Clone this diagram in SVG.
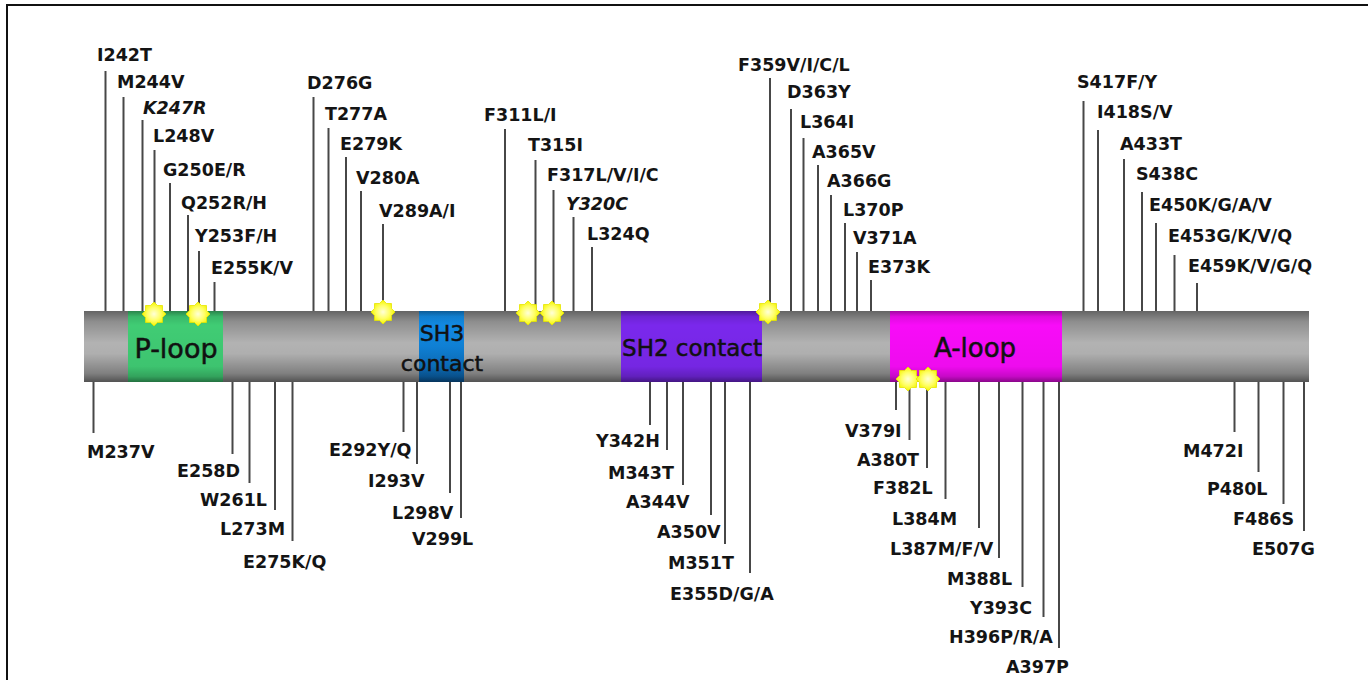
<svg xmlns="http://www.w3.org/2000/svg" xmlns:xlink="http://www.w3.org/1999/xlink" width="1368" height="680" viewBox="0 0 1368 680">
<style>
.lbl{font-family:"DejaVu Sans",Verdana,sans-serif;font-weight:bold;font-size:17.5px;fill:#141414}
.it{font-style:italic}
.dom{font-family:"DejaVu Sans",Verdana,sans-serif;fill:#111;stroke:#111;stroke-width:0.5}
.ln{stroke:#474747;stroke-width:2;fill:none}
.dshade{fill:url(#dshade)}
</style>
<defs>
<linearGradient id="shade" x1="0" y1="0" x2="0" y2="1">
<stop offset="0" stop-color="#000" stop-opacity="0.45"/>
<stop offset="0.15" stop-color="#000" stop-opacity="0.22"/>
<stop offset="0.45" stop-color="#000" stop-opacity="0.02"/>
<stop offset="0.6" stop-color="#000" stop-opacity="0.04"/>
<stop offset="0.88" stop-color="#000" stop-opacity="0.3"/>
<stop offset="1" stop-color="#000" stop-opacity="0.55"/>
</linearGradient>
<linearGradient id="dshade" x1="0" y1="0" x2="0" y2="1">
<stop offset="0" stop-color="#000" stop-opacity="0.35"/>
<stop offset="0.08" stop-color="#000" stop-opacity="0.1"/>
<stop offset="0.2" stop-color="#000" stop-opacity="0"/>
<stop offset="0.78" stop-color="#000" stop-opacity="0.04"/>
<stop offset="0.92" stop-color="#000" stop-opacity="0.2"/>
<stop offset="1" stop-color="#000" stop-opacity="0.45"/>
</linearGradient>
<linearGradient id="sh3fill" x1="0" y1="0" x2="0" y2="1">
<stop offset="0" stop-color="#138ee8"/>
<stop offset="0.5" stop-color="#0f82d8"/>
<stop offset="1" stop-color="#0a5fa6"/>
</linearGradient>
<radialGradient id="starfill" cx="0.5" cy="0.5" r="0.5">
<stop offset="0" stop-color="#ffffd8"/>
<stop offset="0.55" stop-color="#ffff66"/>
<stop offset="1" stop-color="#f4f400"/>
</radialGradient>
<polygon id="star" points="12,0 8.5,3.52 8.49,8.49 3.52,8.5 0,12 -3.52,8.5 -8.49,8.49 -8.5,3.52 -12,0 -8.5,-3.52 -8.49,-8.49 -3.52,-8.5 0,-12 3.52,-8.5 8.49,-8.49 8.5,-3.52" fill="url(#starfill)" stroke="#e6e600" stroke-width="0.8"/>
</defs>
<rect width="1368" height="680" fill="#fff"/>
<path d="M7,680 V5 H1368" fill="none" stroke="#111" stroke-width="2"/>

<g id="protein-bar">
<rect x="84" y="311" width="1225" height="71" fill="#b6b6b6"/>
<rect x="84" y="311" width="1225" height="71" fill="url(#shade)"/>
</g>
<g id="P-loop">
<rect x="128" y="311" width="95" height="71" fill="#40cc74"/>
<rect class="dshade" x="128" y="311" width="95" height="71"/>
</g>
<g id="SH3-contact">
<rect x="419" y="311" width="45" height="71" fill="url(#sh3fill)"/>
<rect class="dshade" x="419" y="311" width="45" height="71"/>
</g>
<g id="SH2-contact">
<rect x="621" y="311" width="141" height="71" fill="#7a28ec"/>
<rect class="dshade" x="621" y="311" width="141" height="71"/>
</g>
<g id="A-loop">
<rect x="890" y="311" width="172" height="71" fill="#f80cf8"/>
<rect class="dshade" x="890" y="311" width="172" height="71"/>
</g>
<g id="domain-labels">
<text class="dom" x="176" y="358" font-size="27" text-anchor="middle">P-loop</text>
<text class="dom" x="442" y="341" font-size="22" text-anchor="middle">SH3</text>
<text class="dom" x="442" y="371" font-size="22" text-anchor="middle">contact</text>
<text class="dom" x="692" y="356" font-size="23" text-anchor="middle">SH2 contact</text>
<text class="dom" x="975" y="357" font-size="26" text-anchor="middle">A-loop</text>
</g>

<g id="connectors">
<line class="ln" x1="105.5" y1="71" x2="105.5" y2="311"/>
<line class="ln" x1="123.5" y1="97" x2="123.5" y2="311"/>
<line class="ln" x1="142.5" y1="120" x2="142.5" y2="311"/>
<line class="ln" x1="154.5" y1="150" x2="154.5" y2="311"/>
<line class="ln" x1="170" y1="183" x2="170" y2="311"/>
<line class="ln" x1="188" y1="215" x2="188" y2="311"/>
<line class="ln" x1="199" y1="251" x2="199" y2="311"/>
<line class="ln" x1="214.5" y1="282" x2="214.5" y2="311"/>
<line class="ln" x1="313.5" y1="97" x2="313.5" y2="311"/>
<line class="ln" x1="328.5" y1="128" x2="328.5" y2="311"/>
<line class="ln" x1="346" y1="157" x2="346" y2="311"/>
<line class="ln" x1="361" y1="191" x2="361" y2="311"/>
<line class="ln" x1="383" y1="224" x2="383" y2="311"/>
<line class="ln" x1="505" y1="129" x2="505" y2="311"/>
<line class="ln" x1="535.5" y1="160" x2="535.5" y2="311"/>
<line class="ln" x1="553.5" y1="190" x2="553.5" y2="311"/>
<line class="ln" x1="573.5" y1="217" x2="573.5" y2="311"/>
<line class="ln" x1="592" y1="247" x2="592" y2="311"/>
<line class="ln" x1="770" y1="78" x2="770" y2="311"/>
<line class="ln" x1="791" y1="109" x2="791" y2="311"/>
<line class="ln" x1="803.5" y1="138" x2="803.5" y2="311"/>
<line class="ln" x1="818" y1="165" x2="818" y2="311"/>
<line class="ln" x1="831" y1="195" x2="831" y2="311"/>
<line class="ln" x1="845" y1="223" x2="845" y2="311"/>
<line class="ln" x1="857" y1="252" x2="857" y2="311"/>
<line class="ln" x1="871" y1="280" x2="871" y2="311"/>
<line class="ln" x1="1083.5" y1="101" x2="1083.5" y2="311"/>
<line class="ln" x1="1098" y1="130" x2="1098" y2="311"/>
<line class="ln" x1="1124" y1="159" x2="1124" y2="311"/>
<line class="ln" x1="1142" y1="192" x2="1142" y2="311"/>
<line class="ln" x1="1156" y1="223" x2="1156" y2="311"/>
<line class="ln" x1="1174.5" y1="255" x2="1174.5" y2="311"/>
<line class="ln" x1="1197" y1="283" x2="1197" y2="311"/>
<line class="ln" x1="93.5" y1="382" x2="93.5" y2="433"/>
<line class="ln" x1="232.5" y1="382" x2="232.5" y2="454"/>
<line class="ln" x1="249.5" y1="382" x2="249.5" y2="483"/>
<line class="ln" x1="275" y1="382" x2="275" y2="510"/>
<line class="ln" x1="292.5" y1="382" x2="292.5" y2="541"/>
<line class="ln" x1="403.5" y1="382" x2="403.5" y2="432"/>
<line class="ln" x1="417" y1="382" x2="417" y2="464"/>
<line class="ln" x1="450" y1="382" x2="450" y2="493"/>
<line class="ln" x1="461" y1="382" x2="461" y2="518"/>
<line class="ln" x1="650" y1="382" x2="650" y2="425"/>
<line class="ln" x1="667" y1="382" x2="667" y2="450"/>
<line class="ln" x1="683" y1="382" x2="683" y2="485"/>
<line class="ln" x1="711" y1="382" x2="711" y2="515"/>
<line class="ln" x1="725" y1="382" x2="725" y2="544"/>
<line class="ln" x1="750" y1="382" x2="750" y2="573"/>
<line class="ln" x1="896" y1="382" x2="896" y2="410"/>
<line class="ln" x1="909.5" y1="382" x2="909.5" y2="440"/>
<line class="ln" x1="927" y1="382" x2="927" y2="468"/>
<line class="ln" x1="945.5" y1="382" x2="945.5" y2="499"/>
<line class="ln" x1="979" y1="382" x2="979" y2="528"/>
<line class="ln" x1="999" y1="382" x2="999" y2="558"/>
<line class="ln" x1="1022.5" y1="382" x2="1022.5" y2="587"/>
<line class="ln" x1="1043.5" y1="382" x2="1043.5" y2="617"/>
<line class="ln" x1="1059" y1="382" x2="1059" y2="648"/>
<line class="ln" x1="1234.5" y1="382" x2="1234.5" y2="432"/>
<line class="ln" x1="1258.5" y1="382" x2="1258.5" y2="472"/>
<line class="ln" x1="1283.5" y1="382" x2="1283.5" y2="504"/>
<line class="ln" x1="1304" y1="382" x2="1304" y2="531"/>
</g>

<g id="stars">
<use xlink:href="#star" x="154" y="314"/>
<use xlink:href="#star" x="198" y="314"/>
<use xlink:href="#star" x="383" y="312"/>
<use xlink:href="#star" x="528" y="313"/>
<use xlink:href="#star" x="552" y="313"/>
<use xlink:href="#star" x="768" y="312"/>
<use xlink:href="#star" x="908" y="379"/>
<use xlink:href="#star" x="928" y="379"/>
</g>

<g id="m-I242T"><text class="lbl" x="97" y="61">I242T</text></g>
<g id="m-M244V"><text class="lbl" x="117" y="88">M244V</text></g>
<g id="m-K247R"><text class="lbl it" x="143" y="114">K247R</text></g>
<g id="m-L248V"><text class="lbl" x="153" y="142">L248V</text></g>
<g id="m-G250E"><text class="lbl" x="163" y="176">G250E/R</text></g>
<g id="m-Q252R"><text class="lbl" x="181" y="209">Q252R/H</text></g>
<g id="m-Y253F"><text class="lbl" x="195" y="242">Y253F/H</text></g>
<g id="m-E255K"><text class="lbl" x="211" y="274">E255K/V</text></g>
<g id="m-D276G"><text class="lbl" x="307" y="89">D276G</text></g>
<g id="m-T277A"><text class="lbl" x="325" y="120">T277A</text></g>
<g id="m-E279K"><text class="lbl" x="340" y="150">E279K</text></g>
<g id="m-V280A"><text class="lbl" x="356" y="184">V280A</text></g>
<g id="m-V289A"><text class="lbl" x="379" y="217">V289A/I</text></g>
<g id="m-F311L"><text class="lbl" x="484" y="121">F311L/I</text></g>
<g id="m-T315I"><text class="lbl" x="528" y="151">T315I</text></g>
<g id="m-F317L"><text class="lbl" x="547" y="181">F317L/V/I/C</text></g>
<g id="m-Y320C"><text class="lbl it" x="566" y="210">Y320C</text></g>
<g id="m-L324Q"><text class="lbl" x="587" y="240">L324Q</text></g>
<g id="m-F359V"><text class="lbl" x="738" y="71">F359V/I/C/L</text></g>
<g id="m-D363Y"><text class="lbl" x="787" y="98">D363Y</text></g>
<g id="m-L364I"><text class="lbl" x="800" y="128">L364I</text></g>
<g id="m-A365V"><text class="lbl" x="812" y="158">A365V</text></g>
<g id="m-A366G"><text class="lbl" x="827" y="187">A366G</text></g>
<g id="m-L370P"><text class="lbl" x="843" y="216">L370P</text></g>
<g id="m-V371A"><text class="lbl" x="853" y="244">V371A</text></g>
<g id="m-E373K"><text class="lbl" x="868" y="273">E373K</text></g>
<g id="m-S417F"><text class="lbl" x="1077" y="88">S417F/Y</text></g>
<g id="m-I418S"><text class="lbl" x="1097" y="118">I418S/V</text></g>
<g id="m-A433T"><text class="lbl" x="1120" y="150">A433T</text></g>
<g id="m-S438C"><text class="lbl" x="1136" y="180">S438C</text></g>
<g id="m-E450K"><text class="lbl" x="1149" y="211">E450K/G/A/V</text></g>
<g id="m-E453G"><text class="lbl" x="1168" y="242">E453G/K/V/Q</text></g>
<g id="m-E459K"><text class="lbl" x="1188" y="272">E459K/V/G/Q</text></g>

<g id="m-M237V"><text class="lbl" x="87" y="458">M237V</text></g>
<g id="m-E258D"><text class="lbl" x="177" y="477">E258D</text></g>
<g id="m-W261L"><text class="lbl" x="200" y="506">W261L</text></g>
<g id="m-L273M"><text class="lbl" x="220" y="535">L273M</text></g>
<g id="m-E275K"><text class="lbl" x="243" y="568">E275K/Q</text></g>
<g id="m-E292Y"><text class="lbl" x="329" y="456">E292Y/Q</text></g>
<g id="m-I293V"><text class="lbl" x="368" y="487">I293V</text></g>
<g id="m-L298V"><text class="lbl" x="392" y="519">L298V</text></g>
<g id="m-V299L"><text class="lbl" x="412" y="545">V299L</text></g>
<g id="m-Y342H"><text class="lbl" x="596" y="447">Y342H</text></g>
<g id="m-M343T"><text class="lbl" x="608" y="479">M343T</text></g>
<g id="m-A344V"><text class="lbl" x="626" y="508">A344V</text></g>
<g id="m-A350V"><text class="lbl" x="657" y="538">A350V</text></g>
<g id="m-M351T"><text class="lbl" x="668" y="569">M351T</text></g>
<g id="m-E355D"><text class="lbl" x="670" y="600">E355D/G/A</text></g>
<g id="m-V379I"><text class="lbl" x="845" y="437">V379I</text></g>
<g id="m-A380T"><text class="lbl" x="857" y="466">A380T</text></g>
<g id="m-F382L"><text class="lbl" x="873" y="494">F382L</text></g>
<g id="m-L384M"><text class="lbl" x="892" y="525">L384M</text></g>
<g id="m-L387M"><text class="lbl" x="890" y="555">L387M/F/V</text></g>
<g id="m-M388L"><text class="lbl" x="947" y="585">M388L</text></g>
<g id="m-Y393C"><text class="lbl" x="970" y="614">Y393C</text></g>
<g id="m-H396P"><text class="lbl" x="949" y="643">H396P/R/A</text></g>
<g id="m-A397P"><text class="lbl" x="1006" y="673">A397P</text></g>
<g id="m-M472I"><text class="lbl" x="1183" y="457">M472I</text></g>
<g id="m-P480L"><text class="lbl" x="1207" y="495">P480L</text></g>
<g id="m-F486S"><text class="lbl" x="1233" y="525">F486S</text></g>
<g id="m-E507G"><text class="lbl" x="1252" y="555">E507G</text></g>
</svg>
